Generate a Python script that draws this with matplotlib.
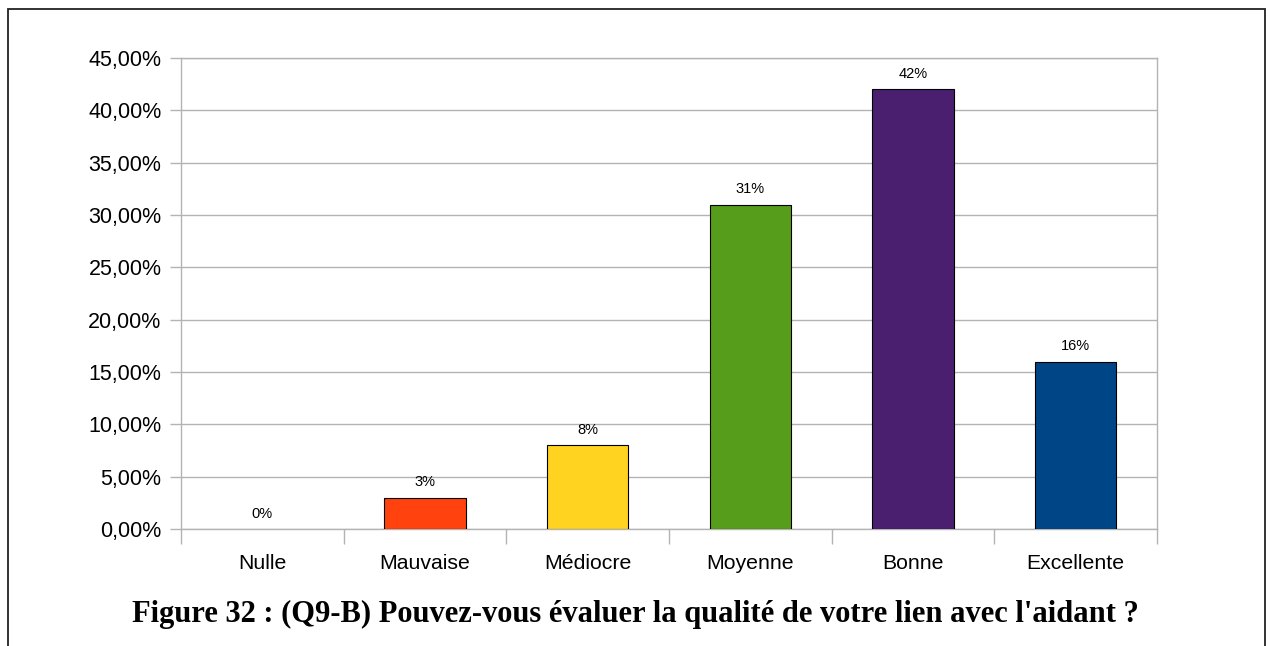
import matplotlib
matplotlib.use("Agg")
import matplotlib.pyplot as plt
from matplotlib.patches import Rectangle
from matplotlib.ticker import FixedLocator, FuncFormatter
import numpy as np

categories = ["Nulle", "Mauvaise", "Médiocre", "Moyenne", "Bonne", "Excellente"]
values = [0.00, 0.03, 0.08, 0.31, 0.42, 0.16]
labels = ["0%", "3%", "8%", "31%", "42%", "16%"]
colors = ["#004586", "#ff420e", "#ffd320", "#579d1c", "#4b1f6f", "#004586"]
yticks = [0.0, 0.05, 0.10, 0.15, 0.20, 0.25, 0.30, 0.35, 0.40, 0.45]
caption = "Figure 32 : (Q9-B) Pouvez-vous évaluer la qualité de votre lien avec l'aidant ?"

plt.rcParams['font.family'] = ['Liberation Sans', 'DejaVu Sans']

fig = plt.figure(figsize=(12.7, 6.46), dpi=100)
ax = fig.add_axes([181/1270, 1-529/646, (1157-181)/1270, (529-58)/646])

x = np.arange(len(categories))
edges = ["black" if v > 0 else "none" for v in values]
ax.bar(x, values, width=0.5, color=colors, edgecolor=edges, linewidth=0.8, zorder=3)
for xi, v, lab in zip(x, values, labels):
    ax.annotate(lab, (xi, v), xytext=(0, 6), textcoords="offset points",
                ha="center", va="bottom", fontsize=10.5, color="black")

ax.set_xlim(-0.5, len(categories)-0.5)
ax.set_ylim(0, 0.45)
ax.yaxis.set_major_locator(FixedLocator(yticks))
ax.yaxis.set_major_formatter(FuncFormatter(lambda v, p: ("%.2f%%" % (v*100)).replace(".", ",")))
ax.grid(axis="y", color="#b3b3b3", linewidth=1, zorder=0)

ax.set_xticks(x)
ax.set_xticklabels(categories)
ax.set_xticks(np.arange(-0.5, len(categories)), minor=True)
ax.tick_params(axis="x", which="major", length=0, pad=18, labelsize=15.3)
ax.tick_params(axis="x", which="minor", length=11, color="#b3b3b3", width=1)
ax.tick_params(axis="y", length=8, color="#b3b3b3", width=1, pad=6, labelsize=15.5)

for s in ["left", "right", "bottom", "top"]:
    ax.spines[s].set_color("#b3b3b3")
    ax.spines[s].set_linewidth(1)

fig.patches.append(Rectangle((8/1270, -0.1), (1265-8)/1270, 1.1 - 9/646,
                             transform=fig.transFigure, fill=False,
                             edgecolor="#222222", linewidth=1.3))

fig.text(0.5, 1-614/646, caption, ha="center", va="center", fontsize=22,
         fontweight="bold", family=["Liberation Serif", "DejaVu Serif"])

fig.savefig("out.png", dpi=100)
